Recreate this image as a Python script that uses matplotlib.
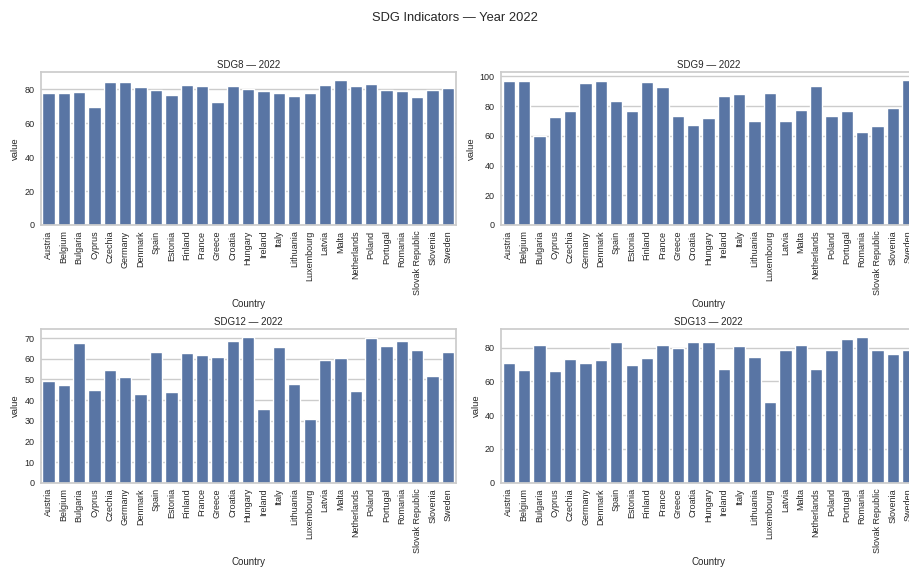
import matplotlib
matplotlib.use("Agg")
import matplotlib.pyplot as plt
import seaborn as sns

year = 2022

countries = [
    "Austria", "Belgium", "Bulgaria", "Cyprus", "Czechia", "Germany", "Denmark",
    "Spain", "Estonia", "Finland", "France", "Greece", "Croatia", "Hungary",
    "Ireland", "Italy", "Lithuania", "Luxembourg", "Latvia", "Malta",
    "Netherlands", "Poland", "Portugal", "Romania", "Slovak Republic",
    "Slovenia", "Sweden",
]

sdg8 = [78.0, 78.0, 78.6, 69.7, 84.4, 84.0, 81.4, 79.6, 76.6, 82.6, 82.0, 72.5,
        82.0, 80.2, 79.2, 78.0, 76.2, 77.6, 82.6, 85.7, 82.0, 82.8, 79.6, 79.0,
        75.2, 79.6, 80.6]
sdg9 = [97.2, 97.2, 59.6, 72.5, 76.8, 95.9, 96.8, 83.4, 76.8, 96.3, 92.9, 73.2,
        67.1, 72.1, 86.8, 88.2, 70.3, 88.8, 69.8, 77.5, 93.6, 73.3, 76.8, 62.3,
        66.3, 78.9, 97.9]
sdg12 = [49.0, 47.2, 67.7, 44.9, 54.7, 51.1, 42.7, 63.2, 43.8, 62.7, 61.7, 60.9,
         68.4, 70.7, 35.5, 65.6, 47.9, 30.9, 59.3, 60.1, 44.3, 70.0, 66.3, 68.7,
         64.0, 51.6, 63.2]
sdg13 = [70.6, 66.6, 81.4, 66.4, 73.0, 70.8, 72.8, 83.0, 69.6, 74.0, 81.8, 80.0,
         83.4, 83.0, 67.6, 81.0, 74.4, 47.5, 78.5, 81.4, 67.6, 78.5, 84.8, 86.5,
         78.5, 76.2, 78.5]

goals = ["SDG8", "SDG9", "SDG12", "SDG13"]
series = [sdg8, sdg9, sdg12, sdg13]

sns.set_theme(style="whitegrid")
plt.rcParams["font.family"] = ["Liberation Sans", "DejaVu Sans"]

fig = plt.figure(figsize=(9.09, 5.69), dpi=100)

# panel rectangles in figure coordinates (left, bottom, width, height)
axes_rects = [
    (0.0448, 0.6046, 0.4565, 0.2684),
    (0.5512, 0.6046, 0.4565, 0.2684),
    (0.0448, 0.1517, 0.4565, 0.2696),
    (0.5512, 0.1517, 0.4565, 0.2696),
]

for goal, values, rect in zip(goals, series, axes_rects):
    ax = fig.add_axes(rect)
    sns.barplot(x=countries, y=values, ax=ax, color="#4C72B0")
    ax.set_title(f"{goal} \u2014 {year}", fontsize=7, pad=3)
    ax.set_xlabel("Country", fontsize=7, labelpad=3)
    ax.set_ylabel("value", fontsize=6.8, labelpad=3)
    ax.tick_params(axis="x", labelrotation=90, labelsize=6.5, length=0, pad=4)
    ax.tick_params(axis="y", labelsize=6.5, length=0, pad=4.5)

fig.suptitle(f"SDG Indicators \u2014 Year {year}", fontsize=9.3, y=0.979)

fig.savefig("out.png", dpi=100)
